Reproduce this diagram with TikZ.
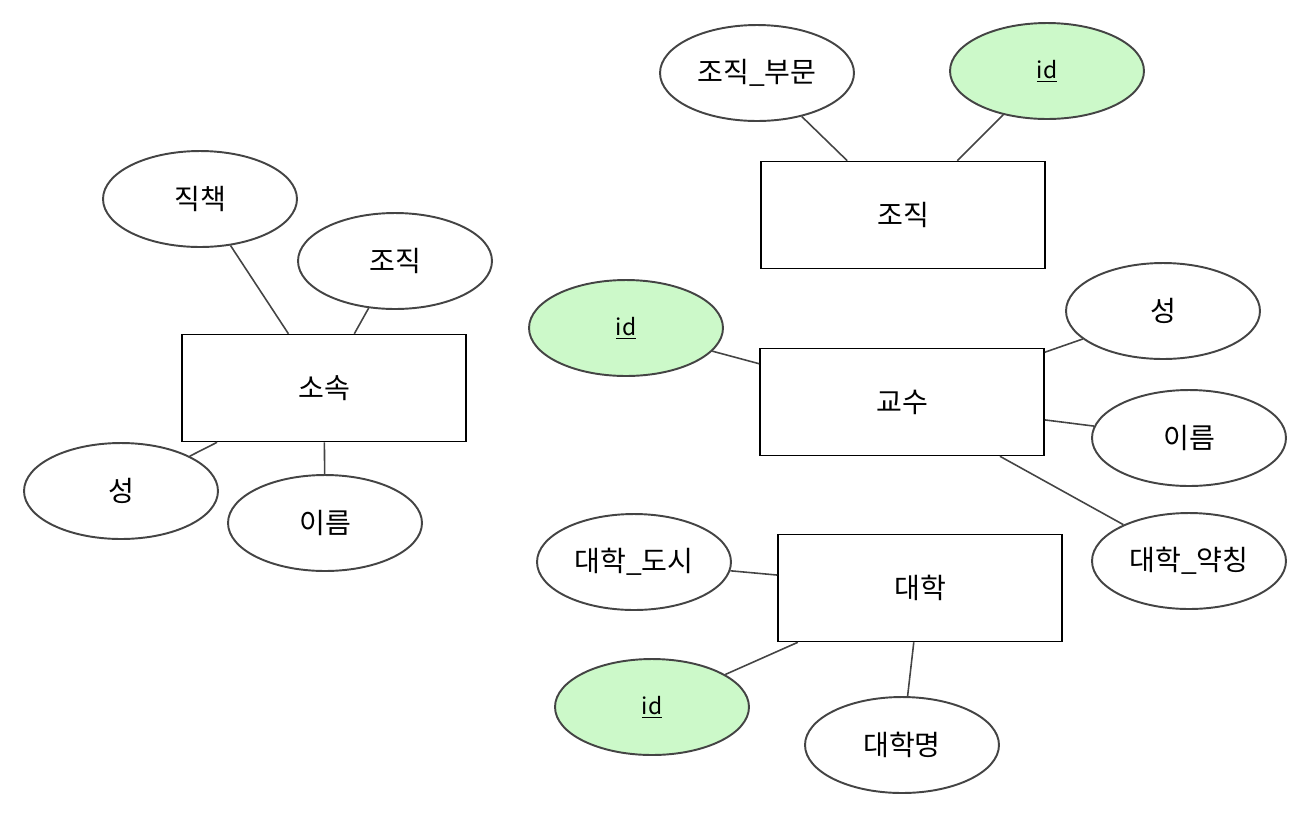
\documentclass[tikz,border=0pt]{standalone}
\usepackage{fontspec}
\setmainfont{Noto Sans CJK KR}
\usetikzlibrary{shapes.geometric}
\definecolor{keygreen}{RGB}{204,249,201}
\definecolor{edgegray}{RGB}{68,68,68}
\tikzset{
  attr/.style={ellipse,draw=edgegray,line width=1.1pt,fill=white,minimum width=3.88cm,minimum height=1.92cm,inner sep=0pt,font=\fontsize{16}{19}\selectfont},
  keyattr/.style={attr,fill=keygreen,font=\fontsize{13}{16}\selectfont},
  entity/.style={rectangle,draw=black,line width=0.9pt,fill=white,minimum width=5.68cm,minimum height=2.14cm,inner sep=0pt,font=\fontsize{16}{19}\selectfont},
  link/.style={draw=edgegray,line width=0.9pt}
}
\begin{document}
\begin{tikzpicture}[x=0.02cm,y=-0.02cm]
			\useasboundingbox (0,0) rectangle (1312,816);
			\node[entity](jojik) at (903,215){조직};
			\node[attr](bumun) at (757,73){조직\_부문};
			\node[keyattr](jid) at (1047,71){\underline{id}};
			\node[entity](sosok) at (324,388){소속};
			\node[attr](jikchaek) at (200,199){직책};
			\node[attr](sjojik) at (395,261){조직};
			\node[attr](sseong) at (121,491){성};
			\node[attr](sireum) at (325,523){이름};
			\node[entity](gyosu) at (902,402){교수};
			\node[keyattr](gid) at (626,328){\underline{id}};
			\node[attr](gseong) at (1163,311){성};
			\node[attr](gireum) at (1189,438){이름};
			\node[attr](yakching) at (1189,561){대학\_약칭};
			\node[entity](daehak) at (920,588){대학};
			\node[attr](dosi) at (634,562){대학\_도시};
			\node[keyattr](did) at (652,707){\underline{id}};
			\node[attr](daehakmyeong) at (902,745){대학명};
			\draw[link](bumun)--(jojik);
			\draw[link](jid)--(jojik);
			\draw[link](jikchaek)--(sosok);
			\draw[link](sjojik)--(sosok);
			\draw[link](sseong)--(sosok);
			\draw[link](sireum)--(sosok);
			\draw[link](gid)--(gyosu);
			\draw[link](gseong)--(gyosu);
			\draw[link](gireum)--(gyosu);
			\draw[link](yakching)--(gyosu);
			\draw[link](dosi)--(daehak);
			\draw[link](did)--(daehak);
			\draw[link](daehakmyeong)--(daehak);
		\end{tikzpicture}
\end{document}
